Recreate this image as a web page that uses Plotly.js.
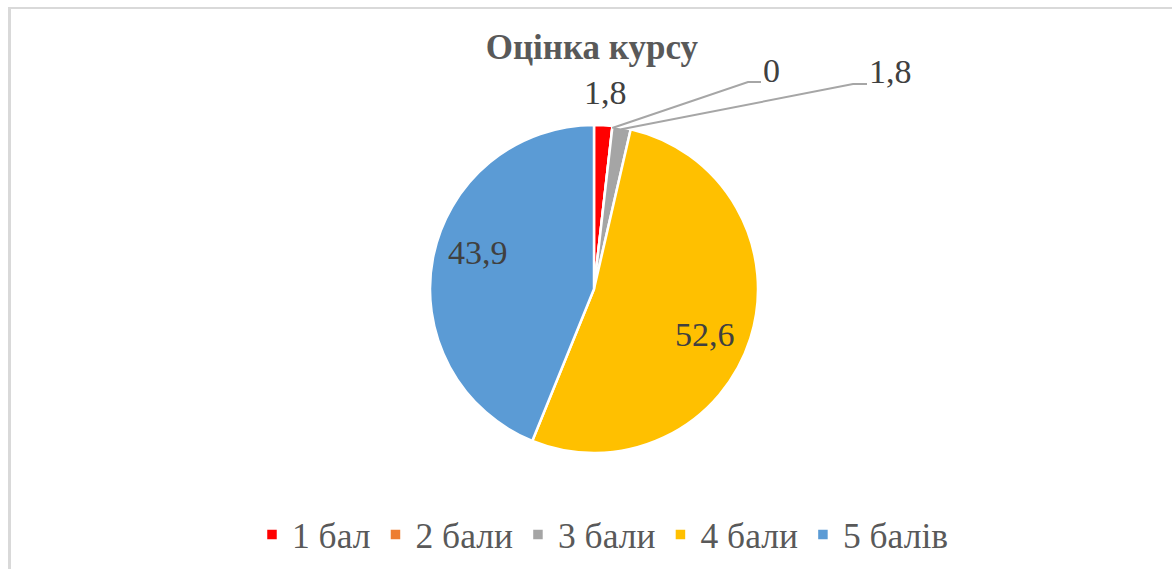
<!DOCTYPE html>
<html><head><meta charset="utf-8">
<script src="https://cdn.plot.ly/plotly-3.0.1.min.js"></script>
<style>
html,body{margin:0;padding:0;background:#fff;overflow:hidden;}
#chart{position:absolute;left:0;top:0;width:1172px;height:569px;}
#frame{position:absolute;left:8px;top:7px;width:1170px;height:570px;border-left:3px solid #d9d9d9;border-top:2px solid #d9d9d9;pointer-events:none;}
</style></head><body>
<div id="chart"></div>
<div id="frame"></div>
<script>
const categories = ['1 бал', '2 бали', '3 бали', '4 бали', '5 балів'];
const values = [1.8, 0, 1.8, 52.6, 43.9];
const valueLabels = ['1,8', '0', '1,8', '52,6', '43,9'];
const colors = ['#FF0000', '#ED7D31', '#A5A5A5', '#FFC000', '#5B9BD5'];

const W = 1172, H = 569;
const cx = 594, cy = 289, R = 164;
const px = x => x / W;
const py = y => 1 - y / H;
const SERIF = 'Liberation Serif';

// cumulative angles (clockwise from 12 o'clock)
const total = values.reduce((a, b) => a + b, 0);
const startAng = [];
let acc = 0;
values.forEach(v => { startAng.push(acc / total * 2 * Math.PI); acc += v; });
const midAng = values.map((v, i) => startAng[i] + v / total * Math.PI);
const edge = (a, r) => [cx + r * Math.sin(a), cy - r * Math.cos(a)];
const deg = Math.PI / 180;

const labelFont = () => ({family: SERIF, size: 34, color: '#404040'});

const annotations = [];
const shapes = [];
// slice 1: label outside along bisector
{
  const p = edge(midAng[0], R + 33);
  annotations.push({x: px(p[0]), y: py(p[1]), xref: 'paper', yref: 'paper', text: valueLabels[0], showarrow: false, font: labelFont(), xanchor: 'center', yanchor: 'middle'});
}
// slices 2 and 3: labels with leader lines
const leaderEnds = {1: {elbow: [748, 82], end: [761, 82]}, 2: {elbow: [853, 84], end: [867, 84]}};
[1, 2].forEach(i => {
  const s = edge(midAng[i], R - 2);
  const le = leaderEnds[i];
  shapes.push({type: 'path', xref: 'paper', yref: 'paper',
    path: `M${px(s[0])},${py(s[1])} L${px(le.elbow[0])},${py(le.elbow[1])} L${px(le.end[0])},${py(le.end[1])}`,
    line: {color: '#A6A6A6', width: 2}});
  annotations.push({x: px(le.end[0]), y: py(le.end[1] - 12), xref: 'paper', yref: 'paper', text: valueLabels[i], showarrow: false, font: labelFont(), xanchor: 'left', yanchor: 'middle'});
});
// slices 4 and 5: inside labels (best-fit placement)
const insidePlace = {3: {dA: 4.6 * deg, f: 0.73}, 4: {dA: 6.2 * deg, f: 0.74}};
[3, 4].forEach(i => {
  const p = edge(midAng[i] + insidePlace[i].dA, insidePlace[i].f * R);
  annotations.push({x: px(p[0]), y: py(p[1]), xref: 'paper', yref: 'paper', text: valueLabels[i], showarrow: false, font: labelFont(), xanchor: 'center', yanchor: 'middle'});
});

const data = [{
  type: 'pie',
  labels: categories,
  values: values,
  textinfo: 'none',
  sort: false,
  direction: 'clockwise',
  rotation: 0,
  marker: {colors: colors, line: {color: '#FFFFFF', width: 2.5}},
  domain: {x: [px(cx - R), px(cx + R)], y: [py(cy + R), py(cy - R)]},
  hoverinfo: 'label+value'
}];

const layout = {
  width: W, height: H,
  margin: {l: 0, r: 0, t: 0, b: 0},
  paper_bgcolor: 'rgba(0,0,0,0)',
  plot_bgcolor: 'rgba(0,0,0,0)',
  font: {family: SERIF},
  title: {text: '<b>Оцінка курсу</b>', x: 0.505, xanchor: 'center', y: 1 - 47 / H, yanchor: 'middle', yref: 'container',
    font: {family: SERIF, size: 35, color: '#595959'}},
  showlegend: true,
  legend: {orientation: 'h', x: 0.5145, xanchor: 'center', y: py(535), yanchor: 'middle',
    font: {family: SERIF, size: 35.5, color: '#595959'},
    itemwidth: 30, traceorder: 'normal'},
  annotations: annotations,
  shapes: shapes
};

Plotly.newPlot('chart', data, layout, {staticPlot: true});
</script>
</body></html>
